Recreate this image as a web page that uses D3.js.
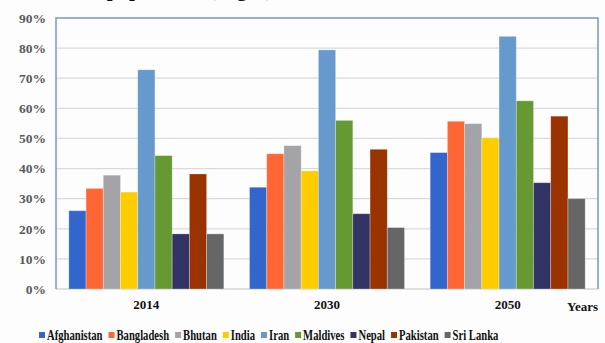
<!DOCTYPE html>
<html>
<head>
<meta charset="utf-8">
<script src="https://cdn.jsdelivr.net/npm/d3@7/dist/d3.min.js"></script>
<style>
  html, body { margin: 0; padding: 0; background: #fdfdfd; }
  svg { display: block; font-family: "Liberation Serif", "Times New Roman", serif; font-weight: bold; }
</style>
</head>
<body>
<svg id="chart" width="605" height="343"></svg>
<script>
// Urban population share by country, 2014 / 2030 / 2050
const years = ["2014", "2030", "2050"];
const countries = ["Afghanistan", "Bangladesh", "Bhutan", "India", "Iran", "Maldives", "Nepal", "Pakistan", "Sri Lanka"];
const colors = ["#3366CC", "#FF6633", "#A3A3A8", "#FFCC00", "#6699CC", "#669933", "#333366", "#993300", "#666666"];
const afghanistan = [26.0, 33.8, 45.3];
const bangladesh  = [33.4, 44.9, 55.7];
const bhutan      = [37.8, 47.6, 54.9];
const india       = [32.2, 39.2, 50.2];
const iran        = [72.8, 79.4, 83.9];
const maldives    = [44.3, 56.0, 62.5];
const nepal       = [18.3, 25.0, 35.3];
const pakistan    = [38.2, 46.4, 57.4];
const sriLanka    = [18.3, 20.4, 30.0];
const yTicks = [0, 10, 20, 30, 40, 50, 60, 70, 80, 90];

const seriesValues = [afghanistan, bangladesh, bhutan, india, iran, maldives, nepal, pakistan, sriLanka];

const svg = d3.select("#chart");
const m = { left: 56, right: 598, top: 18, bottom: 289 };

const x0 = d3.scaleBand().domain(years).range([m.left, m.right])
  .paddingInner(0.142).paddingOuter(0.071);
const x1 = d3.scaleBand().domain(countries).range([0, x0.bandwidth()]).padding(0);
const y = d3.scaleLinear().domain([0, 90]).range([m.bottom, m.top]);

// Title (sits mostly above the top edge)
svg.append("text")
  .attr("x", 273).attr("y", -4)
  .attr("text-anchor", "end")
  .style("font-size", "21px")
  .attr("fill", "#111")
  .text("Urban population (Right)");

// horizontal gridlines
svg.append("g")
  .selectAll("line")
  .data(yTicks.filter(t => t > 0 && t < 90))
  .join("line")
  .attr("x1", m.left).attr("x2", m.right)
  .attr("y1", d => y(d)).attr("y2", d => y(d))
  .attr("stroke", "#DADADA").attr("stroke-width", 1.3);

// baseline
svg.append("line")
  .attr("x1", m.left).attr("x2", m.right)
  .attr("y1", y(0)).attr("y2", y(0))
  .attr("stroke", "#D4D4D4").attr("stroke-width", 1.3);

// bars
const groups = svg.append("g")
  .selectAll("g")
  .data(years)
  .join("g")
  .attr("transform", d => `translate(${x0(d)},0)`);

groups.selectAll("rect")
  .data((yr, i) => countries.map((c, k) => ({ c, k, v: seriesValues[k][i] })))
  .join("rect")
  .attr("x", d => x1(d.c))
  .attr("width", x1.bandwidth())
  .attr("y", d => y(d.v))
  .attr("height", d => y(0) - y(d.v))
  .attr("fill", d => colors[d.k])
  .attr("stroke", "#ffffff").attr("stroke-opacity", 0.35).attr("stroke-width", 0.8);

// plot frame: left, top, right in blue
svg.append("path")
  .attr("d", `M${m.left},${m.bottom}V${m.top}H${m.right}V${m.bottom}`)
  .attr("fill", "none")
  .attr("stroke", "#7096DC").attr("stroke-width", 1.5);

// y axis labels
const yAxis = d3.axisLeft(y).tickValues(yTicks).tickFormat(d => d + "%").tickSize(0).tickPadding(10);
const gy = svg.append("g").attr("transform", `translate(${m.left},0)`).call(yAxis);
gy.select(".domain").remove();
gy.selectAll("text")
  .style("font-family", "'Liberation Serif', serif")
  .style("font-weight", "bold")
  .style("font-size", "13.5px")
  .attr("fill", "#595959");

// x axis labels
const xAxis = d3.axisBottom(x0).tickSize(0).tickPadding(11);
const gx = svg.append("g").attr("transform", `translate(0,${m.bottom})`).call(xAxis);
gx.select(".domain").remove();
gx.selectAll("text")
  .style("font-family", "'Liberation Serif', serif")
  .style("font-weight", "bold")
  .style("font-size", "13px")
  .attr("fill", "#111");

svg.append("text")
  .attr("x", 567).attr("y", 311)
  .style("font-size", "13px")
  .attr("fill", "#111")
  .text("Years");

// legend
const legend = svg.append("g");
let lx = 39;
const squeeze = 0.76;
countries.forEach((c, k) => {
  legend.append("rect")
    .attr("x", lx).attr("y", 332)
    .attr("width", 6).attr("height", 6)
    .attr("fill", colors[k]);
  const t = legend.append("text")
    .attr("transform", `translate(${lx + 8},339.5) scale(${squeeze},1)`)
    .style("font-size", "14px")
    .attr("fill", "#111")
    .text(c);
  lx += 8 + t.node().getComputedTextLength() * squeeze + 6;
});
</script>
</body>
</html>
